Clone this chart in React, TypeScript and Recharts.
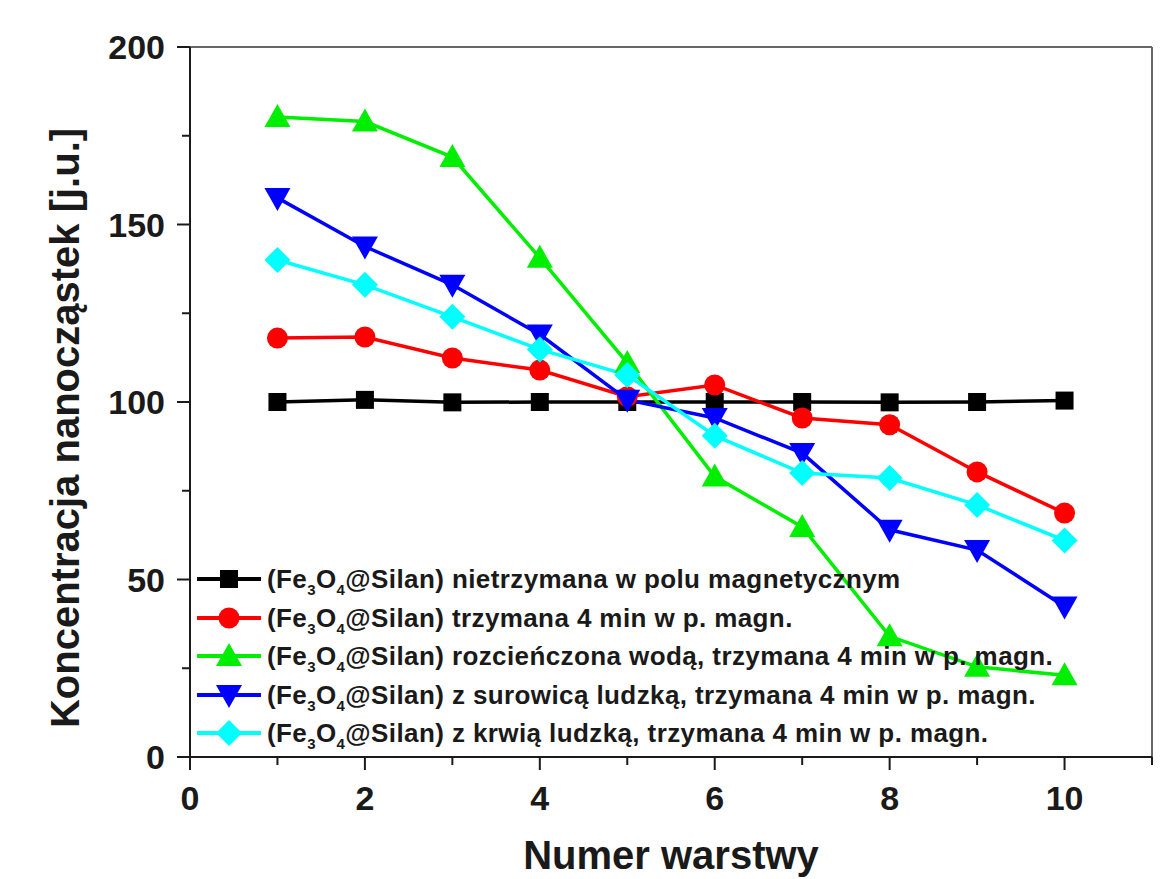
import React from "react";
import { LineChart, Line, XAxis, YAxis, ReferenceLine, Legend } from "recharts";

// numer warstwy
const layers = [1, 2, 3, 4, 5, 6, 7, 8, 9, 10];

// [j.u.]
const notHeld = [100, 100.6, 99.9, 100, 100, 100, 100, 99.9, 100, 100.4];
const held4min = [118, 118.3, 112.4, 109, 101.5, 104.8, 95.5, 93.6, 80.3, 68.7];
const diluted = [180.3, 179, 169, 140.6, 111, 79, 64.8, 34, 25.4, 23];
const withSerum = [157.5, 143.8, 133, 119, 100.6, 95.5, 85.6, 64, 58.3, 42.4];
const withBlood = [140, 133, 124, 114.8, 107.6, 90.5, 80, 78.6, 71, 61];

const xTicks = [0, 1, 2, 3, 4, 5, 6, 7, 8, 9, 10, 11];
const yTicks = [0, 25, 50, 75, 100, 125, 150, 175, 200];

const FONT = "'Liberation Sans', Arial, sans-serif";
const AXIS = "#1a1a1a";
const TEXT = "#1a1a1a";

type Shape = "square" | "circle" | "triangle" | "triangleDown" | "diamond";

const series: { key: string; values: number[]; color: string; shape: Shape; label: string }[] = [
  { key: "notHeld", values: notHeld, color: "#000000", shape: "square", label: "nietrzymana w polu magnetycznym" },
  { key: "held4min", values: held4min, color: "#ff0000", shape: "circle", label: "trzymana 4 min w p. magn." },
  { key: "diluted", values: diluted, color: "#00ee00", shape: "triangle", label: "rozcieńczona wodą, trzymana 4 min w p. magn." },
  { key: "withSerum", values: withSerum, color: "#0000ff", shape: "triangleDown", label: "z surowicą ludzką, trzymana 4 min w p. magn." },
  { key: "withBlood", values: withBlood, color: "#00ffff", shape: "diamond", label: "z krwią ludzką, trzymana 4 min w p. magn." },
];

const data = layers.map((x, i) => {
  const row: Record<string, number> = { x };
  series.forEach((s) => (row[s.key] = s.values[i]));
  return row;
});

function Marker({ cx, cy, shape, color }: { cx: number; cy: number; shape: Shape; color: string }) {
  switch (shape) {
    case "square":
      return <rect x={cx - 9} y={cy - 9} width={18} height={18} fill={color} />;
    case "circle":
      return <circle cx={cx} cy={cy} r={10.5} fill={color} />;
    case "triangle":
      return <polygon points={`${cx - 13},${cy + 10} ${cx + 13},${cy + 10} ${cx},${cy - 13}`} fill={color} />;
    case "triangleDown":
      return <polygon points={`${cx - 13},${cy - 10} ${cx + 13},${cy - 10} ${cx},${cy + 13}`} fill={color} />;
    default:
      return <polygon points={`${cx},${cy - 13} ${cx + 13},${cy} ${cx},${cy + 13} ${cx - 13},${cy}`} fill={color} />;
  }
}

const makeDot = (shape: Shape, color: string) => (props: any) => {
  const { cx, cy, index } = props;
  if (cx == null || cy == null) return <g key={index} />;
  return (
    <g key={index}>
      <Marker cx={cx} cy={cy} shape={shape} color={color} />
    </g>
  );
};

function XTick(props: any) {
  const { x, y, payload } = props;
  const v = payload.value as number;
  const major = v % 2 === 0;
  return (
    <g>
      <line x1={x} x2={x} y1={y} y2={y + (major ? 13 : 8)} stroke={AXIS} strokeWidth={2} />
      {major && v <= 10 && (
        <text x={x} y={y + 53} textAnchor="middle" fontSize={34} fontWeight="bold" fontFamily={FONT} fill={TEXT}>
          {v}
        </text>
      )}
    </g>
  );
}

function YTick(props: any) {
  const { x, y, payload } = props;
  const v = payload.value as number;
  const major = v % 50 === 0;
  return (
    <g>
      <line x1={x - (major ? 13 : 8)} x2={x} y1={y} y2={y} stroke={AXIS} strokeWidth={2} />
      {major && (
        <text x={x - 25} y={y} dy="0.36em" textAnchor="end" fontSize={34} fontWeight="bold" fontFamily={FONT} fill={TEXT}>
          {v}
        </text>
      )}
    </g>
  );
}

function LegendBox() {
  const sub = { fontSize: 15, verticalAlign: -7, lineHeight: 0 } as const;
  return (
    <div style={{ fontFamily: FONT, fontWeight: "bold", fontSize: 26, letterSpacing: 0.4, color: TEXT }}>
      {series.map((s) => (
        <div key={s.key} style={{ display: "flex", alignItems: "center", height: 38.5, whiteSpace: "nowrap" }}>
          <svg width={68} height={38} style={{ flex: "none" }}>
            <line x1={2} x2={66} y1={19} y2={19} stroke={s.color} strokeWidth={4} />
            <Marker cx={34} cy={19} shape={s.shape} color={s.color} />
          </svg>
          <span style={{ marginLeft: 4, lineHeight: "38px" }}>
            (Fe<sub style={sub}>3</sub>O<sub style={sub}>4</sub>@Silan) {s.label}
          </span>
        </div>
      ))}
    </div>
  );
}

export default function App() {
  return (
    <div style={{ position: "absolute", left: 0, top: 0, width: 1169, height: 879, background: "#fff" }}>
      <LineChart width={1169} height={879} data={data} margin={{ top: 47, right: 17, left: 0, bottom: 0 }}>
        <XAxis
          dataKey="x"
          type="number"
          domain={[0, 11]}
          ticks={xTicks}
          interval={0}
          height={122}
          tickSize={0}
          tickMargin={0}
          tickLine={false}
          tick={<XTick />}
          axisLine={{ stroke: AXIS, strokeWidth: 2 }}
          label={{
            content: () => (
              <text x={671} y={869} textAnchor="middle" fontSize={40} fontWeight="bold" fontFamily={FONT} fill={TEXT}>
                Numer warstwy
              </text>
            ),
          }}
        />
        <YAxis
          type="number"
          domain={[0, 200]}
          ticks={yTicks}
          interval={0}
          width={190}
          tickSize={0}
          tickMargin={0}
          tickLine={false}
          tick={<YTick />}
          axisLine={{ stroke: AXIS, strokeWidth: 2 }}
          label={{
            content: () => (
              <text
                x={65}
                y={428}
                transform="rotate(-90, 65, 428)"
                textAnchor="middle"
                dominantBaseline="central"
                fontSize={40}
                fontWeight="bold"
                fontFamily={FONT}
                fill={TEXT}
              >
                Koncentracja nanocząstek [j.u.]
              </text>
            ),
          }}
        />
        <ReferenceLine y={200} stroke="#666" strokeWidth={2} />
        <ReferenceLine x={11} stroke="#666" strokeWidth={2} />
        <Legend
          layout="vertical"
          align="center"
          verticalAlign="middle"
          wrapperStyle={{ left: 195, top: 560, width: "auto" }}
          content={() => <LegendBox />}
        />
        {series.map((s) => (
          <Line
            key={s.key}
            dataKey={s.key}
            type="linear"
            stroke={s.color}
            strokeWidth={3.5}
            dot={makeDot(s.shape, s.color)}
            activeDot={false}
            isAnimationActive={false}
          />
        ))}
      </LineChart>
    </div>
  );
}
